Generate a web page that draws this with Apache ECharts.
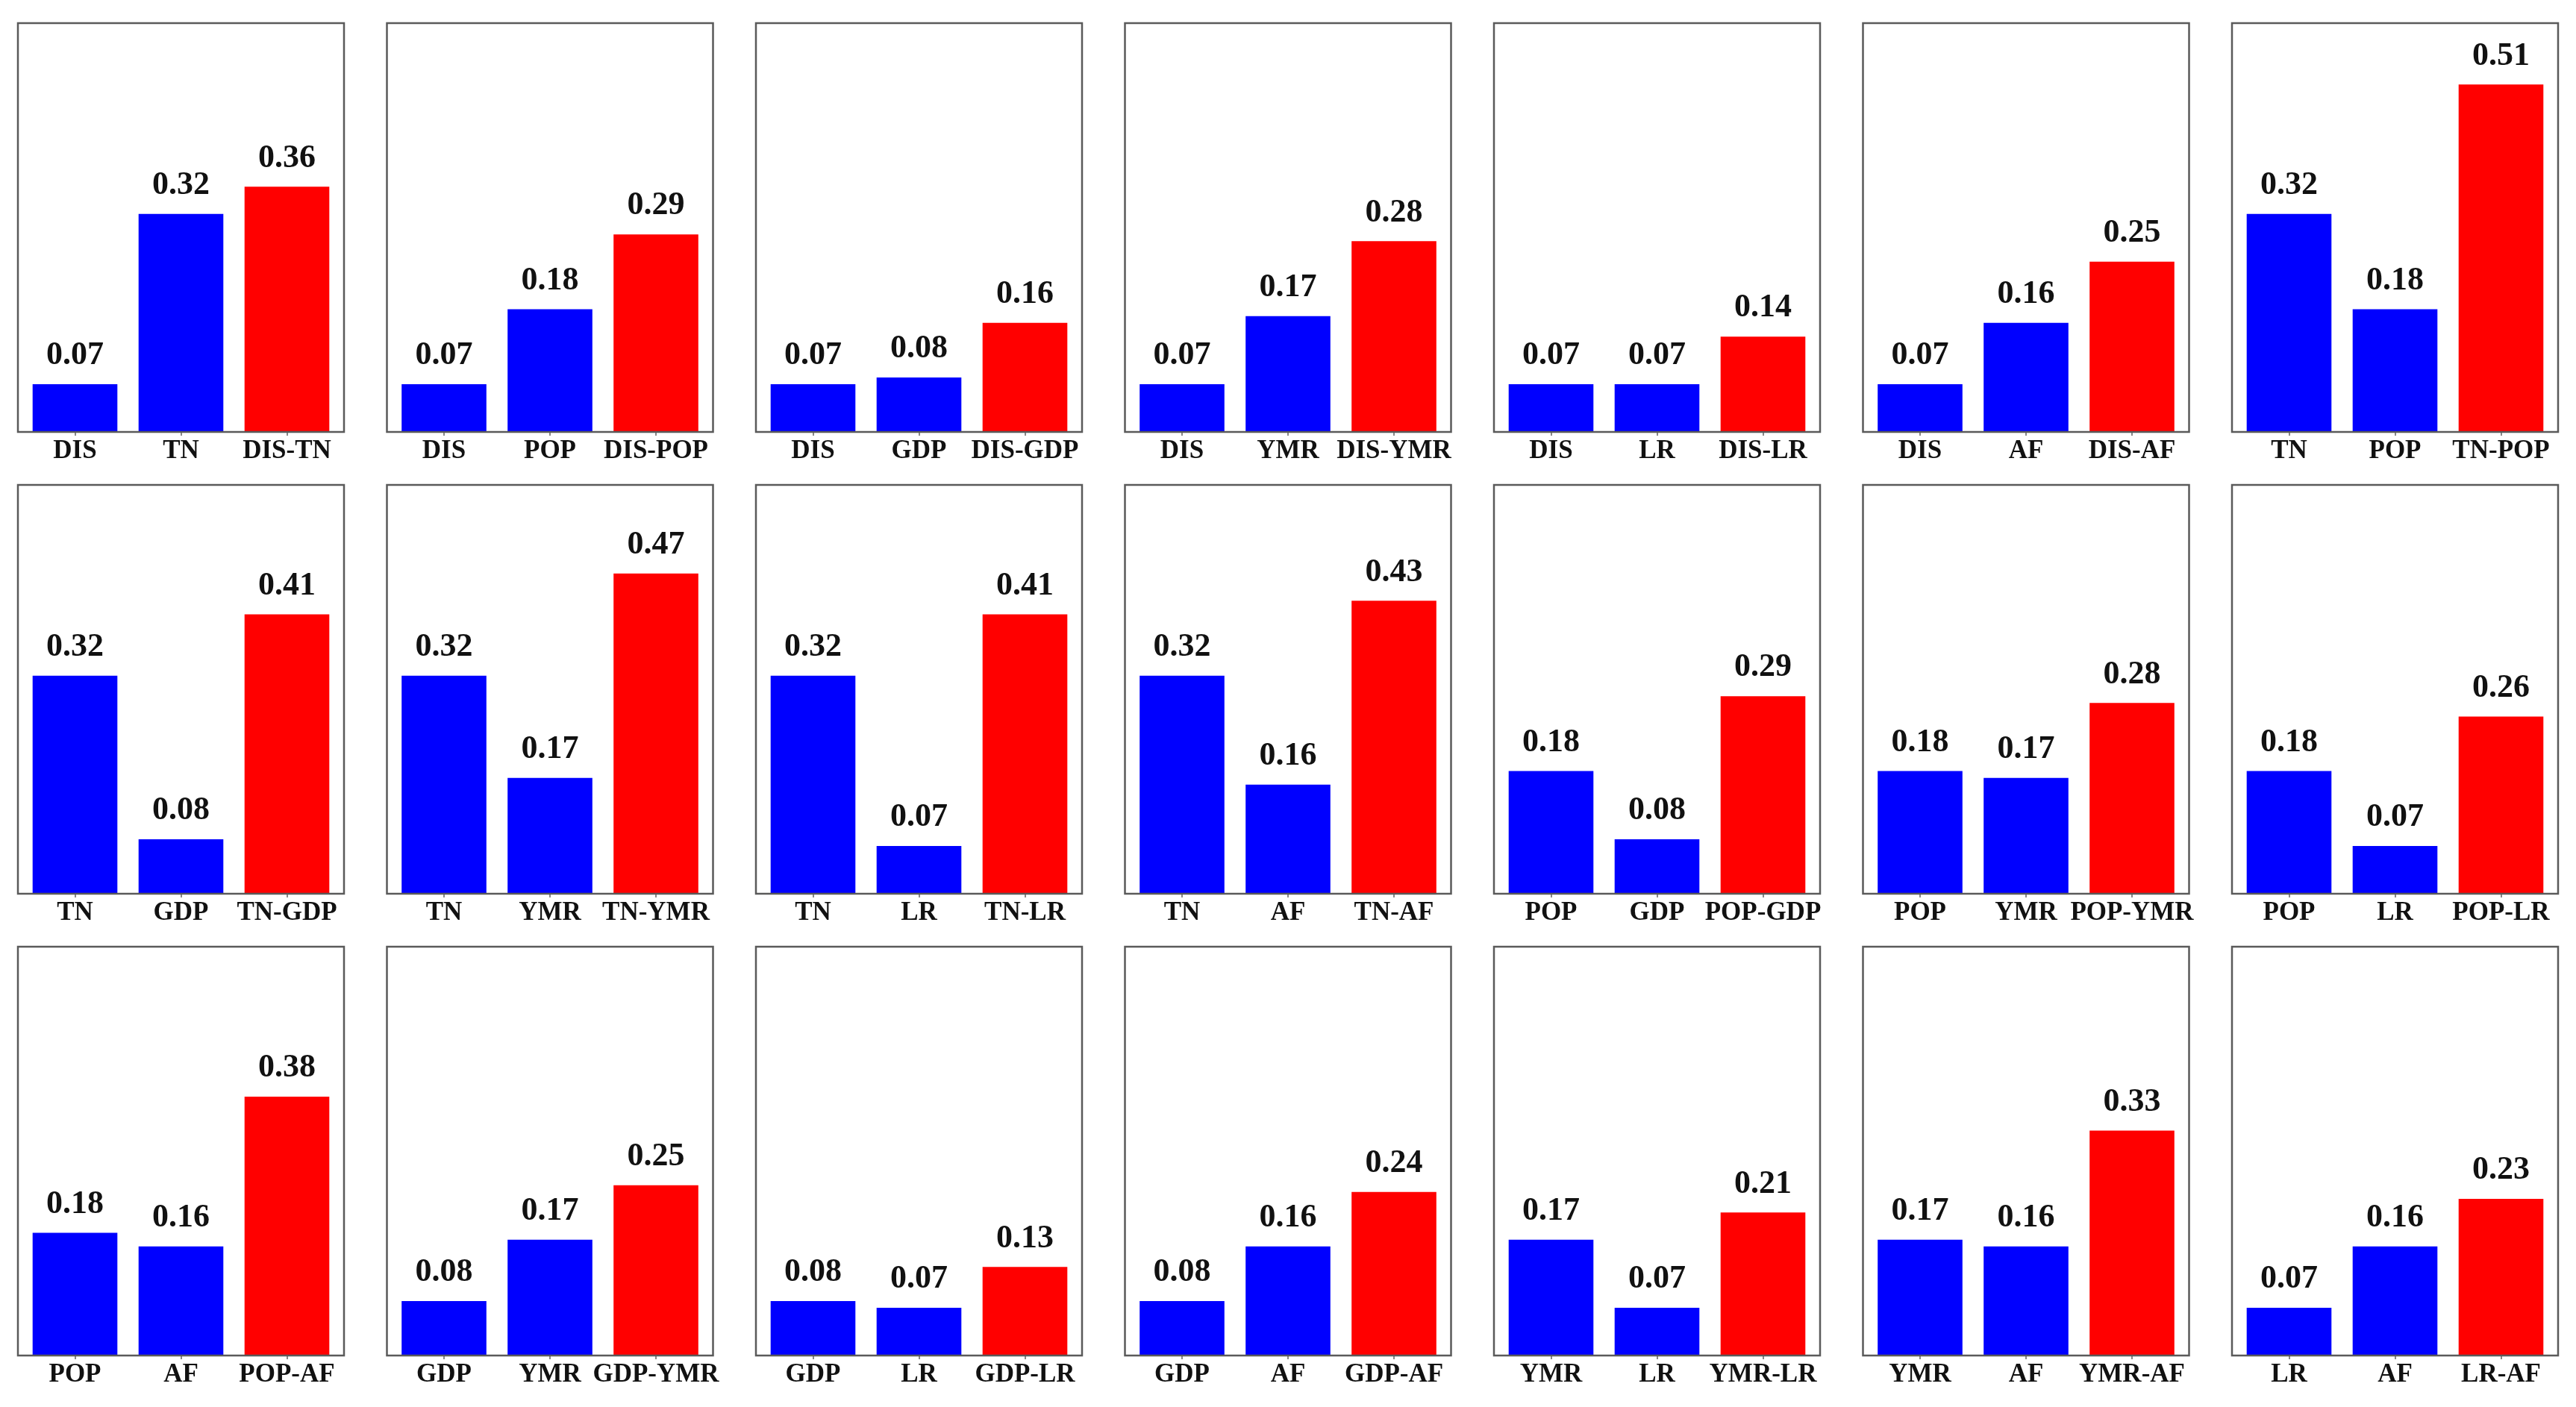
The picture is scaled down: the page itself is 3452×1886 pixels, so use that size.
<!DOCTYPE html>
<html>
<head>
<meta charset="utf-8">
<script src="https://cdn.jsdelivr.net/npm/echarts@6/dist/echarts.min.js"></script>
<style>
html,body{margin:0;padding:0;background:#fff;}
#chart{width:3452px;height:1886px;}
</style>
</head>
<body>
<div id="chart"></div>
<script>
// Data
const factorA = ['DIS','DIS','DIS','DIS','DIS','DIS','TN',
                 'TN','TN','TN','TN','POP','POP','POP',
                 'POP','GDP','GDP','GDP','YMR','YMR','LR'];
const factorB = ['TN','POP','GDP','YMR','LR','AF','POP',
                 'GDP','YMR','LR','AF','GDP','YMR','LR',
                 'AF','YMR','LR','AF','LR','AF','AF'];
const valueA = [0.07,0.07,0.07,0.07,0.07,0.07,0.32,
                0.32,0.32,0.32,0.32,0.18,0.18,0.18,
                0.18,0.08,0.08,0.08,0.17,0.17,0.07];
const valueB = [0.32,0.18,0.08,0.17,0.07,0.16,0.18,
                0.08,0.17,0.07,0.16,0.08,0.17,0.07,
                0.16,0.17,0.07,0.16,0.07,0.16,0.16];
const valueAB = [0.36,0.29,0.16,0.28,0.14,0.25,0.51,
                 0.41,0.47,0.41,0.43,0.29,0.28,0.26,
                 0.38,0.25,0.13,0.24,0.21,0.33,0.23];

const FONT = '"Liberation Serif","Times New Roman",serif';
const BLUE = '#0000FF', RED = '#FF0000';
const COLS = 7;
const X0 = 24, XSTEP = 494.5, PW = 437;
const Y0 = 31, YSTEP = 619, PH = 548;
const INSET = 5.5;

const grids = [], xAxes = [], yAxes = [], series = [], graphics = [];
for (let i = 0; i < valueAB.length; i++) {
  const r = Math.floor(i / COLS), c = i % COLS;
  const L = X0 + c * XSTEP, T = Y0 + r * YSTEP;
  grids.push({left: L + INSET, top: T, width: PW - 2 * INSET, height: PH, show: false});
  xAxes.push({
    type: 'category', gridIndex: i,
    data: [factorA[i], factorB[i], factorA[i] + '-' + factorB[i]],
    axisLine: {show: false},
    axisTick: {show: true, alignWithLabel: true, length: 5, lineStyle: {color: '#888', width: 2}},
    axisLabel: {fontFamily: FONT, fontWeight: 'bold', fontSize: 35, color: '#111', margin: 8, interval: 0}
  });
  yAxes.push({type: 'value', gridIndex: i, min: 0, max: 0.6, show: false, splitLine: {show: false}});
  series.push({
    type: 'bar', xAxisIndex: i, yAxisIndex: i, barWidth: '80%',
    data: [
      {value: valueA[i], itemStyle: {color: BLUE}},
      {value: valueB[i], itemStyle: {color: BLUE}},
      {value: valueAB[i], itemStyle: {color: RED}}
    ],
    label: {
      show: true, position: 'top', distance: 16,
      fontFamily: FONT, fontWeight: 'bold', fontSize: 44, color: '#111',
      formatter: p => p.value.toFixed(2)
    },
    animation: false
  });
  graphics.push({
    type: 'rect', silent: true, z: 10,
    shape: {x: L, y: T, width: PW, height: PH},
    style: {fill: null, stroke: '#5a5a5a', lineWidth: 2.5}
  });
}

const chart = echarts.init(document.getElementById('chart'), null, {renderer: 'canvas'});
chart.setOption({
  backgroundColor: '#fff',
  animation: false,
  grid: grids, xAxis: xAxes, yAxis: yAxes, series: series,
  graphic: graphics
});
</script>
</body>
</html>
